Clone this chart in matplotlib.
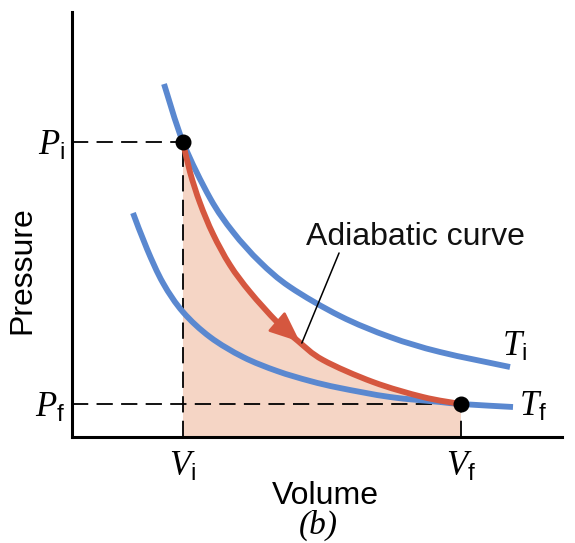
import matplotlib
matplotlib.use("Agg")
import matplotlib.pyplot as plt
from matplotlib.patches import FancyArrowPatch, PathPatch
from matplotlib.path import Path

plt.rcParams['font.family'] = ['Liberation Sans', 'DejaVu Sans']
plt.rcParams['mathtext.fontset'] = 'custom'
plt.rcParams['mathtext.it'] = 'Liberation Serif:italic'
plt.rcParams['mathtext.rm'] = 'Liberation Sans'
plt.rcParams['mathtext.sf'] = 'Liberation Sans'

# ---- data (volume, pressure in arbitrary units) ----
Vi, Pi = 2.265, 6.94
Vf, Pf = 7.94, 0.776

Ti_V = [1.878, 2.265, 2.816, 3.286, 3.837, 4.449, 5.469, 6.490, 7.510, 8.939]
Ti_P = [8.306, 6.941, 5.624, 4.824, 4.118, 3.529, 2.847, 2.353, 2.000, 1.647]

Tf_V = [1.245, 1.531, 1.857, 2.265, 2.816, 3.490, 4.184, 4.857, 5.469, 6.490,
        7.510, 7.939, 9.000]
Tf_P = [5.271, 4.424, 3.624, 2.941, 2.353, 1.882, 1.553, 1.318, 1.153, 0.941,
        0.824, 0.776, 0.706]

Ad_V = [2.265, 2.408, 2.612, 2.878, 3.224, 3.633, 4.184, 4.612, 5.122, 6.143,
        7.163, 7.939]
Ad_P = [6.941, 6.235, 5.506, 4.776, 4.047, 3.412, 2.706, 2.259, 1.812, 1.294,
        0.941, 0.776]

arrow_tail = (4.184, 2.706)
arrow_tip = (4.65, 2.24)
pointer_start = (5.45, 4.33)
pointer_end = (4.69, 2.21)

tick_x = [Vi, Vf]
tick_x_labels = [r'$V_\mathrm{i}$', r'$V_\mathrm{f}$']
tick_y = [Pf, Pi]
tick_y_labels = [r'$P_\mathrm{f}$', r'$P_\mathrm{i}$']

BLUE = '#5a88d0'
RED = '#d5573f'
FILL = '#f5d5c5'


def smooth_codes(xs, ys):
    """Bezier (Catmull-Rom style) path through the read points."""
    pts = list(zip(xs, ys))
    n = len(pts)
    verts = [pts[0]]
    codes = [Path.MOVETO]
    for i in range(n - 1):
        p0 = pts[i - 1] if i > 0 else pts[i]
        p1 = pts[i]
        p2 = pts[i + 1]
        p3 = pts[i + 2] if i + 2 < n else pts[i + 1]
        c1 = (p1[0] + (p2[0] - p0[0]) / 6, p1[1] + (p2[1] - p0[1]) / 6)
        c2 = (p2[0] - (p3[0] - p1[0]) / 6, p2[1] - (p3[1] - p1[1]) / 6)
        verts += [c1, c2, p2]
        codes += [Path.CURVE4] * 3
    return verts, codes


fig = plt.figure(figsize=(5.75, 5.43), dpi=100)
ax = fig.add_axes([72/575, 106/543, 490/575, 425/543])
ax.set_xlim(0, 10)
ax.set_ylim(0, 10)

# shaded work area under adiabat
v, c = smooth_codes(Ad_V, Ad_P)
v = v + [(Ad_V[-1], 0), (Ad_V[0], 0), (Ad_V[0], Ad_P[0])]
c = c + [Path.LINETO, Path.LINETO, Path.CLOSEPOLY]
ax.add_patch(PathPatch(Path(v, c), facecolor=FILL, edgecolor='none', zorder=1))

# dashed guides
dash = dict(color='black', lw=1.3, linestyle=(0, (9.0, 4.6)), zorder=2)
ax.plot([0, Vi], [Pi, Pi], **dash)
ax.plot([Vi, Vi], [0, Pi], **dash)
ax.plot([0, Vf], [Pf, Pf], **dash)
ax.plot([Vf, Vf], [0, Pf], **dash)


def curve(xs, ys, color, z):
    v, c = smooth_codes(xs, ys)
    ax.add_patch(PathPatch(Path(v, c), facecolor='none', edgecolor=color,
                           lw=4.2, capstyle='butt', joinstyle='round',
                           zorder=z))


# isotherms
curve(Ti_V, Ti_P, BLUE, 3)
curve(Tf_V, Tf_P, BLUE, 3)
# adiabat
curve(Ad_V, Ad_P, RED, 4)

arr = FancyArrowPatch(arrow_tail, arrow_tip,
                      arrowstyle='-|>,head_length=1.9,head_width=0.8',
                      mutation_scale=10, color=RED, lw=2, shrinkA=0, shrinkB=0,
                      zorder=4)
ax.add_patch(arr)

# end points
ax.plot([Vi, Vf], [Pi, Pf], 'o', color='black', ms=10.5, zorder=5)

# annotation
ax.annotate('', xy=pointer_end, xytext=pointer_start,
            arrowprops=dict(arrowstyle='-', color='black', lw=1.1,
                            shrinkA=0, shrinkB=0), zorder=6)
ax.text(7.0, 4.52, 'Adiabatic curve', fontsize=23, ha='center',
        va='baseline', color='#111111')

ax.text(8.78, 2.12, r'$T_\mathrm{i}$', fontsize=25, ha='left', va='center')
ax.text(9.12, 0.71, r'$T_\mathrm{f}$', fontsize=25, ha='left', va='center')

# axes styling
for s in ['top', 'right']:
    ax.spines[s].set_visible(False)
for s in ['left', 'bottom']:
    ax.spines[s].set_linewidth(2.2)
ax.set_xticks(tick_x, tick_x_labels, fontsize=25)
ax.set_yticks(tick_y, tick_y_labels, fontsize=25)
ax.tick_params(axis='x', length=0, pad=9)
ax.tick_params(axis='y', length=0, pad=5)

ax.set_xlabel('Volume', fontsize=23)
ax.xaxis.set_label_coords((325 - 72) / 490, (437 - 481) / 425)
ax.set_ylabel('Pressure', fontsize=23)
ax.yaxis.set_label_coords((37 - 72) / 490, (437 - 270) / 425)

fig.text(318/575, 1 - 525/543, '(b)', fontsize=24, ha='center', va='center',
         family='Liberation Serif', style='italic')

fig.savefig('out.png', dpi=100)
